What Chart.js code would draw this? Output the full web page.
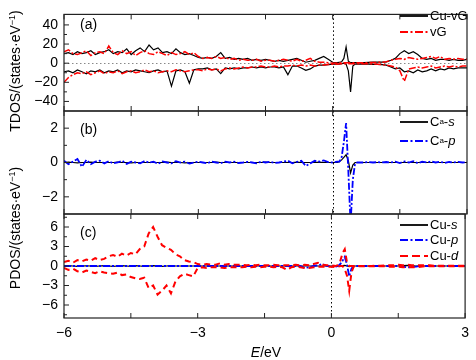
<!DOCTYPE html>
<html><head><meta charset="utf-8">
<script src="https://cdn.jsdelivr.net/npm/chart.js@4/dist/chart.umd.min.js"></script>
<style>
html,body{margin:0;padding:0;background:#fff;}
#wrap{position:relative;width:476px;height:360px;overflow:hidden;font-family:"Liberation Sans",Arial,sans-serif;color:#000;}
canvas{position:absolute;left:0;top:0;}
.lbl{position:absolute;white-space:nowrap;font-size:14px;line-height:16px;}
.lg{position:absolute;left:400px;height:16px;line-height:16px;font-size:13px;display:flex;align-items:center;white-space:nowrap;}
.lg svg{width:28px;height:16px;margin-right:2px;}
.lg sub{font-size:8px;vertical-align:-2px;line-height:0;}
.yt{position:absolute;width:200px;height:16px;line-height:16px;text-align:center;font-size:14px;transform:rotate(-90deg);white-space:nowrap;}
.yt sup{font-size:9px;vertical-align:5px;line-height:0;}
</style></head><body>
<div id="wrap">
<canvas id="ca" width="476" height="360"></canvas>
<canvas id="cb" width="476" height="360"></canvas>
<canvas id="cc" width="476" height="360"></canvas>
<div class="yt" style="left:-85px;top:63px;">TDOS/(states·eV<sup>−1</sup>)</div>
<div class="yt" style="left:-85px;top:220px;">PDOS/(states·eV<sup>−1</sup>)</div>
<div class="lbl" style="left:80px;top:16px;">(a)</div>
<div class="lbl" style="left:80px;top:121px;">(b)</div>
<div class="lbl" style="left:80px;top:224px;">(c)</div>
<div class="lbl" style="left:216px;top:344px;width:100px;text-align:center;"><i>E</i>/eV</div>
<div class="lg" style="top:8px;"><svg><line x1="0" y1="8" x2="28" y2="8" stroke="#000" stroke-width="1.8"/></svg>Cu-vG</div>
<div class="lg" style="top:24px;"><svg><line x1="0" y1="8" x2="28" y2="8" stroke="#f00" stroke-width="1.8" stroke-dasharray="8,2.5,2,2.5"/></svg>vG</div>
<div class="lg" style="top:114px;"><svg><line x1="0" y1="8" x2="28" y2="8" stroke="#000" stroke-width="1.8"/></svg>C<sub>a</sub>-<i>s</i></div>
<div class="lg" style="top:133px;"><svg><line x1="0" y1="8" x2="28" y2="8" stroke="#00f" stroke-width="1.8" stroke-dasharray="8,2.5,2,2.5"/></svg>C<sub>a</sub>-<i>p</i></div>
<div class="lg" style="top:217px;"><svg><line x1="0" y1="8" x2="28" y2="8" stroke="#000" stroke-width="1.8"/></svg>Cu-<i>s</i></div>
<div class="lg" style="top:232px;"><svg><line x1="0" y1="8" x2="28" y2="8" stroke="#00f" stroke-width="1.8" stroke-dasharray="8,2.5,2,2.5"/></svg>Cu-<i>p</i></div>
<div class="lg" style="top:248px;"><svg><line x1="0" y1="8" x2="28" y2="8" stroke="#f00" stroke-width="2" stroke-dasharray="8,4"/></svg>Cu-<i>d</i></div>
</div>
<script>
// ---- energy grid (eV) ----
const energy = [
-6.0,-5.9,-5.8,-5.7,-5.6,-5.5,-5.4,-5.3,-5.2,-5.1,
-5.0,-4.9,-4.8,-4.7,-4.6,-4.5,-4.4,-4.3,-4.2,-4.1,
-4.0,-3.9,-3.8,-3.7,-3.6,-3.5,-3.4,-3.3,-3.2,-3.1,
-3.0,-2.9,-2.8,-2.7,-2.6,-2.5,-2.4,-2.3,-2.2,-2.1,
-2.0,-1.9,-1.8,-1.7,-1.6,-1.5,-1.4,-1.3,-1.2,-1.1,
-1.0,-0.9,-0.8,-0.7,-0.6,-0.5,-0.4,-0.3,-0.2,-0.1,
0.0,0.1,
0.15,0.2,0.25,0.3,0.35,0.4,0.45,0.5,0.55,
0.6,0.7,0.8,0.9,1.0,1.1,1.2,1.3,1.4,1.5,
1.6,1.7,1.8,1.9,2.0,2.1,2.2,2.3,2.4,2.5,
2.6,2.7,2.8,2.9,3.0];

// ---- panel (a) TDOS ----
const cuvgUp = [
10,11,9,12,10,11,13,9,11,12,
14,10,12,11,15,9,13,16,12,19,
14,16,11,12,10,15,11,9,10,8,
6,5,6,5,7,11,5,6,4,5,
4,5,3,4,3,4,3,2,3,2,
3,4,5,3,1,2,3,5,7,4,
1,0.5,
1,1.5,5,17,2,0.5,0.5,0.5,0.5,
0.6,0.7,0.8,1,1,1.2,1.3,3,5,10,
13,10,12,9,5,4,5,3,4,4,
3,4,3,3,4];
const cuvgDn = [
-9,-8,-10,-7,-9,-11,-8,-9,-7,-10,
-8,-9,-7,-10,-8,-9,-7,-8,-9,-10,
-8,-7,-9,-8,-24,-8,-7,-9,-21,-7,
-6,-6,-5,-7,-6,-11,-5,-6,-5,-6,
-5,-5,-4,-5,-4,-5,-4,-4,-5,-4,
-12,-3,-3,-5,-7.5,-6,-3,-2,-2,-1.5,
-1,-1,
-1,-0.5,0,-1,-8,-30,-3,-1,-1,
-1,-1,-1,-1.2,-1.3,-1.5,-2,-4,-6,-5,
-9,-8,-10,-7,-9,-8,-6,-8,-6,-7,
-5,-6,-5,-5,-5];
const vgUp = [
12,14,10,9,11,13,8,11,12,10,
18,11,9,13,10,12,8,11,13,10,
9,12,10,8,11,9,10,12,9,11,
7,5,6,5,7,5,6,4,5,3,
4,3,3,4,2,3,3,2,3,4,
3,2,4,2,3,5,2,1,1,0.5,
0,0.3,
0.3,0.5,0.5,0.5,0.5,0.5,0.5,0.5,0.5,
0.5,0.5,0.6,0.6,0.8,1,1.5,3,4,5,
4,6,5,4,5,6,7,5,7,4,
5,4,5,4,4];
const vgDn = [
-20,-15,-12,-10,-11,-9,-12,-10,-8,-11,
-9,-10,-8,-11,-9,-8,-10,-9,-7,-9,
-8,-10,-9,-8,-9,-7,-8,-9,-8,-7,
-7,-8,-6,-7,-6,-8,-6,-5,-6,-5,
-4,-5,-4,-4,-3,-4,-4,-3,-4,-3,
-3,-2,-3,-2,-3,-2,-3,-2,-2,-1.5,
-1,-1,
-0.5,-0.5,-0.5,-0.5,-0.5,-0.5,-0.5,-0.5,-0.5,
-0.5,-0.5,-0.5,-0.8,-1,-1.5,-2,-3,-4,-8,
-19,-6,-5,-4,-5,-4,-3,-5,-4,-3,
-4,-3,-4,-3,-3];

// ---- panel (b) Ca PDOS ----
const caS = [
0,0.02,0,-0.02,0,0,0.02,0,0,0,
0,0,0.02,0,0,-0.02,0,0,0,0,
0,0,0,0.02,0,0,0,-0.02,0,0,
0,0,0,0,0.02,0,0,0,0,0,
0,0,0,0,0,0.02,0,0,0,0,
0,0,0.02,0,0,0,0,0.02,0,0,
0,0,
0.05,0.15,0.3,0.45,0.1,-0.6,-0.15,0,0,
0,0,0,0,0,0,0,0,0,0,
0,0,0,0,0,0,0,0,0,0,
0,0,0,0,0];
const caP = [
0.1,-0.1,0.05,0.2,-0.25,0.15,-0.1,0.05,0.1,-0.05,
0.08,-0.05,0,0.1,-0.08,0.05,0,-0.05,0.08,0,
0.05,-0.08,0.06,0,-0.05,0.08,0,0.05,-0.06,0,
0.05,0,-0.05,0.06,0,-0.04,0.05,0,0.05,-0.03,
0,0.04,0,-0.05,0.05,0,0.04,-0.03,0,0.05,
0.1,-0.05,0.03,0.1,-0.2,-0.05,0.1,0.05,0.12,0.02,
0,0.05,
0.05,0.3,1.2,2.3,-0.5,-3.6,-1.0,-0.05,0,
0,0,0.03,0,0.02,0,0.03,0,0.05,-0.03,
0.06,0,0.08,-0.04,0.05,0,0.06,0,0.04,-0.02,
0.03,0,0.04,0,0.02];

// ---- panel (c) Cu PDOS ----
const cuS = [
0,0.05,0,-0.05,0,0.03,0,-0.05,0,0.05,
0,-0.05,0,0.05,0,-0.05,0.05,0,-0.05,0,
0.05,0,-0.05,0,0.05,0,0,-0.03,0,0,
0,0,0,0,0,0,0,0,0,0,
0,0,0,0,0,0,0,0,0,0,
0,0,0,0,0,0,0,0,0,0,
0,0,
0,0,0.05,0.1,0,-0.1,0,0,0,
0,0,0,0,0,0,0,0,0,0,
0.05,0.1,0.05,0,0,0,0,0,0,0,
0,0,0,0,0];
const cuP = [
0,0,0,0,0,0,0,0,0,0,
0,0,0,0,0,0,0,0,0,0,
0,0,0,0,0,0,0,0,0,0,
0,0,0,0,0,0,0,0,0,0,
0,0,0,0,0,0,0,0,0,0,
0,0,0,0,-0.3,-0.2,0,0.1,0.3,0,
0,-0.1,
0,0.3,0.8,1.4,0.2,-1.6,-0.4,0,0,
0,0,0,0,0,0,0,0,0,0,
-0.1,-0.2,-0.15,-0.1,0,0,0,0,0,0,
0,0,0,0,0];
const cuDUp = [
0.6,0.8,0.5,0.9,0.7,1.0,0.8,1.2,0.9,1.1,
1.5,1.7,1.4,1.9,1.6,2.0,1.8,2.6,3.0,5.0,
6.0,4.5,3.2,2.8,2.5,1.8,1.5,0.9,0.7,0.6,
0.3,0.2,0.3,0.2,0.2,0.4,0.2,0.3,0.2,0.2,
0.2,0.1,0.2,0.1,0.2,0.1,0.1,0.2,0.1,0.1,
0.1,0.1,0.2,0.1,0.2,0.1,0.3,0.5,0.2,0.1,
0.1,0,
0.2,0.8,2.0,2.6,0.5,0,0,0,0,
0,0,0,0,0.05,0.05,0.1,0.1,0.1,0.2,
0.1,0.2,0.1,0.1,0.1,0.1,0.1,0.05,0.05,0.05,
0.05,0.05,0.05,0.05,0.05];
const cuDDn = [
-0.3,-0.6,-0.4,-0.8,-1.0,-0.7,-0.9,-1.1,-0.8,-1.0,
-1.1,-1.2,-1.0,-1.4,-1.3,-1.7,-1.9,-2.0,-1.8,-3.4,
-3.0,-4.4,-3.8,-3.0,-4.2,-2.4,-1.6,-1.2,-1.4,-1.6,
-0.3,-0.2,-0.3,-0.2,-0.2,-0.2,-0.3,-0.2,-0.2,-0.2,
-0.2,-0.1,-0.2,-0.1,-0.2,-0.1,-0.1,-0.2,-0.1,-0.2,
-0.6,-0.2,-0.1,-0.2,-0.3,-0.3,-0.2,-0.1,-0.1,-0.1,
-0.1,-0.2,
-0.1,0,0,-0.5,-1.5,-3.8,-1.0,-0.1,0,
-0.05,-0.05,-0.05,-0.05,-0.05,-0.05,-0.05,-0.1,-0.1,-0.1,
-0.2,-0.2,-0.15,-0.2,-0.1,-0.05,-0.05,-0.05,-0.05,-0.05,
-0.05,-0.05,-0.05,-0.05,-0.05];

// ---- tick labels ----
const xTickLabels = [-6,-3,0,3];
const xTickMarks = [-6,-4.5,-3,-1.5,0,1.5,3];
const aTicks = [-40,-20,0,20,40], aMinor = [-30,-10,10,30];
const bTicks = [-2,0,2], bMinor = [-1,1];
const cTicks = [-6,-3,0,3,6], cMinor = [-7.5,-4.5,-1.5,1.5,4.5,7.5];

const FONT = '"Liberation Sans", Arial, sans-serif';
const fmt = v => v < 0 ? '\u2212' + Math.abs(v) : String(v);
const pts = ys => energy.map((x, i) => ({x, y: ys[i]}));

const frame = {
  id: 'frame',
  beforeDatasetsDraw(chart, args, o) {
    const {ctx, chartArea: {left, right, top, bottom}, scales: {x, y}} = chart;
    ctx.save();
    ctx.lineWidth = 1;
    ctx.setLineDash([1.5, 2.5]);
    if (o.zero) {
      ctx.strokeStyle = '#888';
      const y0 = Math.round(y.getPixelForValue(0)) + 0.5;
      ctx.beginPath(); ctx.moveTo(left, y0); ctx.lineTo(right, y0); ctx.stroke();
    }
    ctx.strokeStyle = '#000';
    const x0 = Math.round(x.getPixelForValue(0)) + 0.5;
    ctx.beginPath(); ctx.moveTo(x0, top); ctx.lineTo(x0, bottom); ctx.stroke();
    ctx.restore();
  },
  afterDatasetsDraw(chart, args, o) {
    const {ctx, chartArea: {left, right, top, bottom}, scales: {x, y}} = chart;
    ctx.save();
    ctx.strokeStyle = '#222';
    ctx.lineWidth = 1.2;
    ctx.strokeRect(left, top, right - left, bottom - top);
    ctx.lineWidth = 1;
    ctx.beginPath();
    xTickMarks.forEach(v => {
      const p = x.getPixelForValue(v);
      ctx.moveTo(p, top); ctx.lineTo(p, top + 5);
      ctx.moveTo(p, bottom); ctx.lineTo(p, bottom - 5);
    });
    o.major.forEach(v => { const p = y.getPixelForValue(v); ctx.moveTo(left, p); ctx.lineTo(left + 5, p); });
    o.minor.forEach(v => { const p = y.getPixelForValue(v); ctx.moveTo(left, p); ctx.lineTo(left + 3, p); });
    ctx.stroke();
    ctx.restore();
  }
};

function panel(id, top, bottom, yMin, yMax, major, minor, datasets, showX, zero) {
  return new Chart(document.getElementById(id), {
    type: 'line',
    data: {datasets},
    plugins: [frame],
    options: {
      responsive: false, animation: false, devicePixelRatio: 1,
      layout: {padding: {left: 0, right: 9, top: top, bottom: showX ? 0 : 360 - bottom}},
      elements: {point: {radius: 0}, line: {tension: 0}},
      plugins: {legend: {display: false}, tooltip: {enabled: false}, frame: {major, minor, zero}},
      scales: {
        x: {type: 'linear', min: -6, max: 3, display: showX,
            grid: {display: false, drawTicks: false}, border: {display: false},
            afterFit: s => { s.height = showX ? 360 - bottom : 0; },
            afterBuildTicks: s => { s.ticks = xTickLabels.map(v => ({value: v})); },
            ticks: {padding: 7, autoSkip: false, maxRotation: 0, color: '#000',
                    font: {size: 14, family: FONT}, callback: fmt}},
        y: {type: 'linear', min: yMin, max: yMax,
            grid: {display: false, drawTicks: false}, border: {display: false},
            afterFit: s => { s.width = 64; },
            afterBuildTicks: s => { s.ticks = major.map(v => ({value: v})); },
            ticks: {padding: 6, color: '#000', font: {size: 14, family: FONT}, callback: fmt}}
      }
    }
  });
}

const blk = (d, o) => ({data: pts(d), borderColor: '#000', borderWidth: 1.2, order: o});
const red_dd = (d, o) => ({data: pts(d), borderColor: '#f00', borderWidth: 1.5, borderDash: [7, 2, 2, 2], order: o});
const blu_dd = (d, o) => ({data: pts(d), borderColor: '#00f', borderWidth: 1.8, borderDash: [7, 2, 2, 2], order: o});
const red_d = (d, o) => ({data: pts(d), borderColor: '#f00', borderWidth: 2, borderDash: [6, 4], order: o});

panel('ca', 7, 111, -50, 51, aTicks, aMinor,
  [blk(cuvgUp, 1), blk(cuvgDn, 1), red_dd(vgUp, 0), red_dd(vgDn, 0)], false, true);
panel('cb', 111, 214, -3, 3, bTicks, bMinor,
  [blk(caS, 1), blu_dd(caP, 0)], false, false);
panel('cc', 214, 318, -8, 8, cTicks, cMinor,
  [blk(cuS, 2), blu_dd(cuP, 1), red_d(cuDUp, 0), red_d(cuDDn, 0)], true, false);
</script>
</body></html>
